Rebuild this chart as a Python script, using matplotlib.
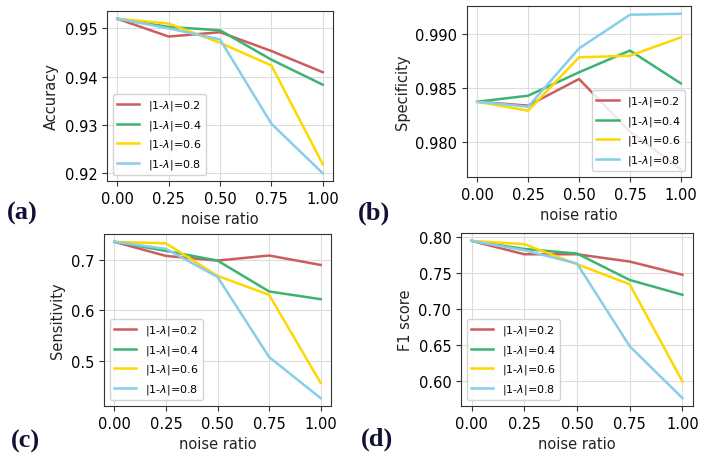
import matplotlib.pyplot as plt

noise = [0.0, 0.25, 0.5, 0.75, 1.0]
series_labels = [r'|1-$\lambda$|=0.2', r'|1-$\lambda$|=0.4',
                 r'|1-$\lambda$|=0.6', r'|1-$\lambda$|=0.8']
colors = ['#cd5c5c', '#3cb371', '#ffd700', '#87ceeb']

# accuracy
acc_02 = [0.952, 0.9483, 0.9492, 0.9453, 0.9409]
acc_04 = [0.952, 0.9503, 0.9496, 0.9435, 0.9383]
acc_06 = [0.952, 0.9510, 0.9470, 0.9423, 0.9218]
acc_08 = [0.952, 0.9500, 0.9477, 0.9302, 0.9199]

# specificity
spe_02 = [0.98376, 0.9834, 0.98587, 0.9810, 0.9775]
spe_04 = [0.98376, 0.98432, 0.98649, 0.98851, 0.98546]
spe_06 = [0.98376, 0.98293, 0.98788, 0.98803, 0.98973]
spe_08 = [0.98376, 0.98330, 0.98870, 0.99183, 0.99192]

# sensitivity
sen_02 = [0.736, 0.708, 0.6987, 0.7088, 0.690]
sen_04 = [0.736, 0.718, 0.6987, 0.6374, 0.622]
sen_06 = [0.736, 0.733, 0.6683, 0.6306, 0.4556]
sen_08 = [0.736, 0.722, 0.6663, 0.507, 0.4253]

# F1 score
f1_02 = [0.7953, 0.7766, 0.7766, 0.7664, 0.748]
f1_04 = [0.7953, 0.7840, 0.7776, 0.7407, 0.720]
f1_06 = [0.7953, 0.7907, 0.7627, 0.7346, 0.599]
f1_08 = [0.7953, 0.7822, 0.7636, 0.6481, 0.5757]

W, H = 708, 464


def box(left, right, top, bottom):
    return [left / W, 1 - bottom / H, (right - left) / W, (bottom - top) / H]


def panel(fig, rect, data, ylabel, yticks, fmt, legend_loc, tag, tag_xy):
    ax = fig.add_axes(rect)
    for ys, lab, c in zip(data, series_labels, colors):
        ax.plot(noise, ys, color=c, lw=1.8, label=lab)
    ax.set_xticks(noise)
    ax.set_xticklabels(['%.2f' % v for v in noise])
    ax.set_yticks(yticks)
    ax.set_yticklabels([fmt % v for v in yticks])
    ax.tick_params(labelsize=10.5, color='#333333')
    ax.grid(True, color='#dddddd', lw=0.8)
    for s in ax.spines.values():
        s.set_color('#333333')
    ax.set_xlabel('noise ratio', fontsize=10.5, color='#222222')
    ax.set_ylabel(ylabel, fontsize=10.5, color='#222222')
    ax.legend(loc=legend_loc, fontsize=8, framealpha=0.85, edgecolor='#cccccc')
    fig.text(tag_xy[0] / W, 1 - tag_xy[1] / H, tag, fontsize=19,
             fontweight='bold', family='Liberation Serif', color='#111133',
             ha='center', va='center')
    return ax


fig = plt.figure(figsize=(7.08, 4.64), dpi=100)

panel(fig, box(107, 333, 12, 182), [acc_02, acc_04, acc_06, acc_08],
      'Accuracy', [0.92, 0.93, 0.94, 0.95], '%.2f', 'lower left', '(a)', (22, 213))
panel(fig, box(467, 691, 7, 178), [spe_02, spe_04, spe_06, spe_08],
      'Specificity', [0.980, 0.985, 0.990], '%.3f', 'lower right', '(b)', (374, 213))
panel(fig, box(104, 331, 235, 407), [sen_02, sen_04, sen_06, sen_08],
      'Sensitivity', [0.5, 0.6, 0.7], '%.1f', 'lower left', '(c)', (25, 441))
panel(fig, box(461, 693, 234, 407), [f1_02, f1_04, f1_06, f1_08],
      'F1 score', [0.60, 0.65, 0.70, 0.75, 0.80], '%.2f', 'lower left', '(d)', (377, 439))

fig.savefig('out.png', dpi=100)
